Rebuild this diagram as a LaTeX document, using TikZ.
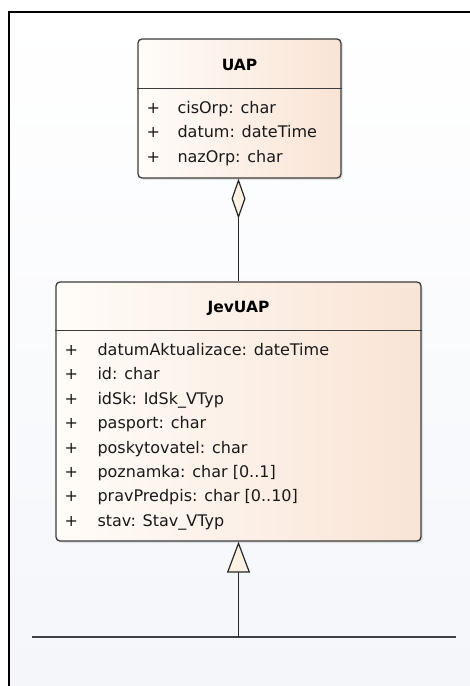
\documentclass[tikz,border=0pt]{standalone}
\usepackage{fontspec}
\setmainfont{DejaVu Sans}
\usepackage{tikz}
\usetikzlibrary{shapes,arrows.meta,shadows}
\usetikzlibrary{positioning}

\definecolor{boxleft}{RGB}{255,252,249}
\definecolor{boxright}{RGB}{249,228,213}
\definecolor{boxline}{RGB}{60,60,60}
\definecolor{tipfill}{RGB}{252,242,228}
\definecolor{canvasbot}{RGB}{244,246,250}

\begin{document}
\begin{tikzpicture}[x=1pt,y=-1pt,
	classbox/.style={draw=boxline, line width=1.3pt, rounded corners=4pt, left color=boxleft, right color=boxright, inner sep=0pt, drop shadow={shadow xshift=2pt, shadow yshift=-2pt, opacity=0.2}},
	classname/.style={font=\fontsize{15.5}{18}\selectfont\bfseries, anchor=base, inner sep=0pt},
	attrs/.style={font=\fontsize{16}{24.4}\selectfont, align=left, anchor=base west, inner sep=0pt, text=black!90},
	sep/.style={draw=boxline, line width=1.3pt},
	conn/.style={draw=black!85, line width=1.4pt}]
		
		\useasboundingbox (0,0) rectangle (470,686);
		\fill[white] (0,0) rectangle (470,686);
		\shade[top color=white, bottom color=canvasbot] (9,12) rectangle (470,686);
		\draw[line width=2.2pt] (9,686) -- (9,12) -- (470,12);
		
		\node[classbox, minimum width=203pt, minimum height=139pt] (uap) at (239.5,108.5) {};
		\node[classname] (uapname) at ([yshift=-32pt]uap.north) {UAP};
		\draw[sep] ([yshift=-50pt]uap.north west) -- ([yshift=-50pt]uap.north east);
		% base anchor = last line
		\node[attrs] (uapattrs) at ([xshift=9pt,yshift=-124pt]uap.north west) {\makebox[31pt][l]{+}cisOrp: char\\\makebox[31pt][l]{+}datum: dateTime\\\makebox[31pt][l]{+}nazOrp: char};
		
		\node[classbox, minimum width=365pt, minimum height=259pt] (jev) at (238.5,411.5) {};
		\node[classname] (jevname) at ([yshift=-31pt]jev.north) {JevUAP};
		\draw[sep] ([yshift=-49pt]jev.north west) -- ([yshift=-49pt]jev.north east);
		\node[attrs] (jevattrs) at ([xshift=9pt,yshift=-245pt]jev.north west) {\makebox[33pt][l]{+}datumAktualizace: dateTime\\\makebox[33pt][l]{+}id: char\\\makebox[33pt][l]{+}idSk: IdSk\_VTyp\\\makebox[33pt][l]{+}pasport: char\\\makebox[33pt][l]{+}poskytovatel: char\\\makebox[33pt][l]{+}poznamka: char [0..1]\\\makebox[33pt][l]{+}pravPredpis: char [0..10]\\\makebox[33pt][l]{+}stav: Stav\_VTyp};
		
		% aggregation
		\draw[conn, {Diamond[length=40pt, width=14pt, fill=tipfill, line width=1.2pt]}-] (uap.south -| jev.north) -- (jev.north);
		
		% generalization to the bus line
		\coordinate (busleft) at (32,637);
		\coordinate (busright) at (456,637);
		\coordinate (busmid) at (jev.south |- busleft);
		\draw[draw=black!75, line width=1.8pt] (busleft) -- (busright);
		\draw[conn, -{Triangle[length=31pt, width=23pt, fill=tipfill, line width=1.2pt]}] (busmid) -- (jev.south);
		
\end{tikzpicture}
\end{document}
